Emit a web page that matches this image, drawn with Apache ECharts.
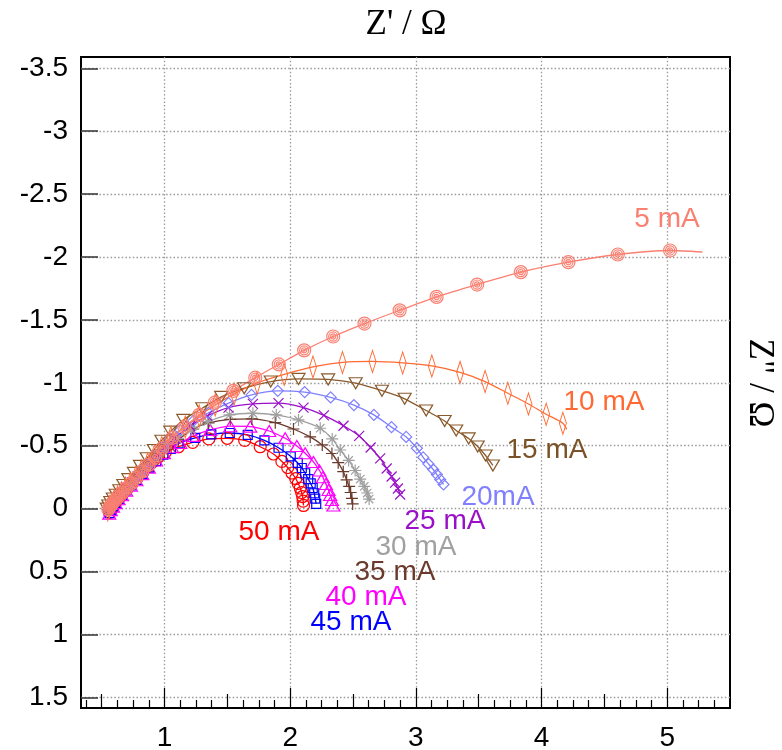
<!DOCTYPE html>
<html>
<head>
<meta charset="utf-8">
<script src="https://cdn.jsdelivr.net/npm/echarts@6/dist/echarts.min.js"></script>
<style>
  html, body { margin: 0; padding: 0; background: #fff; }
  #chart { width: 782px; height: 750px; }
</style>
</head>
<body>
<div id="chart"></div>
<script>
// Nyquist impedance spectra at different discharge currents: [Z' (ohm), Z'' (ohm)]
const cur5 = [[0.552,0.005],[0.568,-0.018],[0.584,-0.042],[0.606,-0.066],[0.630,-0.092],[0.662,-0.124],[0.694,-0.158],[0.734,-0.198],[0.775,-0.243],[0.822,-0.293],[0.871,-0.347],[0.925,-0.410],[0.982,-0.482],[1.061,-0.562],[1.157,-0.649],[1.276,-0.745],[1.399,-0.842],[1.547,-0.936],[1.722,-1.041],[1.909,-1.146],[2.111,-1.258],[2.342,-1.368],[2.591,-1.471],[2.871,-1.576],[3.165,-1.683],[3.488,-1.781],[3.835,-1.880],[4.214,-1.959],[4.607,-2.020],[5.023,-2.052]];
const cur10 = [[0.548,0.010],[0.562,-0.015],[0.580,-0.040],[0.600,-0.066],[0.626,-0.094],[0.656,-0.126],[0.690,-0.162],[0.728,-0.204],[0.770,-0.250],[0.815,-0.300],[0.865,-0.356],[0.918,-0.418],[0.978,-0.488],[1.050,-0.566],[1.165,-0.649],[1.276,-0.737],[1.403,-0.824],[1.554,-0.912],[1.737,-0.999],[1.952,-1.067],[2.181,-1.126],[2.416,-1.162],[2.655,-1.170],[2.895,-1.158],[3.127,-1.134],[3.352,-1.083],[3.551,-1.010],[3.732,-0.917],[3.896,-0.832],[4.037,-0.750],[4.170,-0.679]];
const cur15 = [[0.540,0.000],[0.552,-0.025],[0.568,-0.052],[0.588,-0.080],[0.612,-0.110],[0.640,-0.146],[0.672,-0.188],[0.712,-0.234],[0.756,-0.284],[0.804,-0.340],[0.858,-0.400],[0.915,-0.466],[0.975,-0.540],[1.045,-0.612],[1.149,-0.705],[1.300,-0.798],[1.451,-0.888],[1.634,-0.957],[1.845,-1.010],[2.066,-1.031],[2.302,-1.027],[2.521,-0.997],[2.730,-0.937],[2.911,-0.873],[3.082,-0.780],[3.229,-0.697],[3.321,-0.621],[3.420,-0.558],[3.492,-0.494],[3.555,-0.422],[3.613,-0.343]];
const cur20 = [[0.550,0.010],[0.565,-0.016],[0.583,-0.042],[0.604,-0.068],[0.630,-0.098],[0.660,-0.130],[0.696,-0.168],[0.736,-0.210],[0.780,-0.256],[0.828,-0.306],[0.880,-0.362],[0.937,-0.424],[0.990,-0.488],[1.037,-0.546],[1.125,-0.625],[1.228,-0.697],[1.350,-0.761],[1.509,-0.838],[1.692,-0.904],[1.901,-0.936],[2.115,-0.926],[2.322,-0.884],[2.507,-0.823],[2.666,-0.745],[2.806,-0.648],[2.923,-0.570],[3.008,-0.480],[3.058,-0.407],[3.100,-0.355],[3.138,-0.311],[3.167,-0.271],[3.193,-0.232],[3.220,-0.192]];
const cur25 = [[0.552,0.012],[0.567,-0.014],[0.585,-0.040],[0.607,-0.066],[0.633,-0.096],[0.664,-0.128],[0.700,-0.166],[0.740,-0.208],[0.785,-0.255],[0.834,-0.306],[0.888,-0.362],[0.946,-0.424],[1.005,-0.488],[1.080,-0.560],[1.204,-0.657],[1.340,-0.737],[1.509,-0.803],[1.703,-0.832],[1.907,-0.838],[2.106,-0.803],[2.268,-0.741],[2.424,-0.659],[2.549,-0.578],[2.640,-0.486],[2.716,-0.399],[2.768,-0.319],[2.807,-0.255],[2.835,-0.206],[2.857,-0.160],[2.875,-0.112]];
const cur30 = [[0.553,0.014],[0.568,-0.012],[0.587,-0.038],[0.609,-0.064],[0.635,-0.094],[0.666,-0.126],[0.702,-0.164],[0.743,-0.206],[0.788,-0.252],[0.838,-0.302],[0.892,-0.358],[0.950,-0.418],[1.012,-0.480],[1.100,-0.556],[1.212,-0.625],[1.342,-0.691],[1.517,-0.745],[1.703,-0.758],[1.889,-0.745],[2.066,-0.705],[2.239,-0.639],[2.334,-0.554],[2.398,-0.466],[2.465,-0.383],[2.517,-0.303],[2.557,-0.235],[2.589,-0.176],[2.613,-0.124],[2.628,-0.076]];
const cur35 = [[0.556,0.016],[0.571,-0.010],[0.590,-0.036],[0.612,-0.062],[0.638,-0.092],[0.669,-0.124],[0.705,-0.162],[0.746,-0.204],[0.792,-0.250],[0.842,-0.300],[0.897,-0.355],[0.956,-0.414],[1.020,-0.474],[1.110,-0.548],[1.228,-0.633],[1.350,-0.681],[1.523,-0.709],[1.695,-0.713],[1.881,-0.683],[2.026,-0.633],[2.159,-0.570],[2.255,-0.506],[2.332,-0.438],[2.382,-0.365],[2.422,-0.294],[2.449,-0.228],[2.469,-0.176],[2.481,-0.128],[2.491,-0.082],[2.497,-0.037]];
const cur40 = [[0.560,0.040],[0.572,0.012],[0.590,-0.016],[0.610,-0.044],[0.634,-0.074],[0.662,-0.106],[0.695,-0.142],[0.733,-0.182],[0.776,-0.226],[0.823,-0.274],[0.875,-0.326],[0.932,-0.382],[0.995,-0.440],[1.060,-0.488],[1.125,-0.522],[1.231,-0.578],[1.364,-0.625],[1.523,-0.655],[1.682,-0.652],[1.833,-0.617],[1.960,-0.559],[2.053,-0.498],[2.119,-0.440],[2.185,-0.371],[2.233,-0.303],[2.260,-0.249],[2.284,-0.196],[2.305,-0.148],[2.318,-0.108],[2.332,-0.068],[2.344,-0.025]];
const cur45 = [[0.562,0.036],[0.575,0.010],[0.592,-0.018],[0.612,-0.046],[0.636,-0.076],[0.664,-0.108],[0.697,-0.144],[0.735,-0.184],[0.778,-0.228],[0.825,-0.276],[0.876,-0.326],[0.932,-0.378],[0.990,-0.428],[1.050,-0.474],[1.111,-0.519],[1.244,-0.563],[1.372,-0.590],[1.519,-0.601],[1.662,-0.586],[1.795,-0.542],[1.907,-0.484],[2.004,-0.416],[2.060,-0.363],[2.092,-0.323],[2.119,-0.281],[2.143,-0.235],[2.163,-0.200],[2.179,-0.164],[2.191,-0.122],[2.199,-0.080],[2.207,-0.037]];
const cur50 = [[0.565,0.030],[0.578,0.004],[0.595,-0.024],[0.615,-0.054],[0.640,-0.086],[0.668,-0.120],[0.700,-0.156],[0.738,-0.196],[0.780,-0.240],[0.826,-0.288],[0.870,-0.334],[0.905,-0.372],[0.952,-0.412],[1.006,-0.448],[1.111,-0.492],[1.224,-0.526],[1.352,-0.554],[1.499,-0.559],[1.638,-0.542],[1.761,-0.492],[1.867,-0.434],[1.934,-0.375],[1.980,-0.327],[2.014,-0.283],[2.044,-0.239],[2.064,-0.200],[2.080,-0.164],[2.091,-0.128],[2.099,-0.096],[2.103,-0.060],[2.106,-0.025]];

// end points of the fitted curves beyond the last measured point
const fitEnd5 = [5.28, -2.04];
const fitEnd10 = [4.20, -0.63];

// axis tick values
const xLabelVals = [1, 2, 3, 4, 5];
const xHalfVals = [0.5, 1.5, 2.5, 3.5, 4.5];
const yLabelVals = [-3.5, -3, -2.5, -2, -1.5, -1, -0.5, 0, 0.5, 1, 1.5];

// current labels
const labelTexts = ['5 mA', '10 mA', '15 mA', '20mA', '25 mA', '30 mA', '35 mA', '40 mA', '45 mA', '50 mA'];

const X_MIN = 0.335, X_MAX = 5.5, Y_MIN = -3.59, Y_MAX = 1.585;

const xMinorVals = [];
for (let k = 3; k < 44; k++) { if (k % 4 !== 0) xMinorVals.push(k / 8); }

const SYM = {
  ring: 'path://M10 0A10 10 0 1 1 9.99 0ZM10 3A7 7 0 1 1 9.99 3ZM10 6A4 4 0 1 1 9.99 6ZM10 8.8A1.2 1.2 0 1 1 9.99 8.8Z',
  triDown: 'path://M0 0L12 0L6 10Z',
  triUp: 'path://M6 0L12 10L0 10Z',
  cross: 'path://M0 0L10 10M10 0L0 10',
  plus: 'path://M5 0L5 10M0 5L10 5',
  star: 'path://M5 0L5 10M0 5L10 5M1.5 1.5L8.5 8.5M8.5 1.5L1.5 8.5'
};

// drawn from highest current to lowest so the 5 mA curve sits on top
const curves = [
  { name: '50 mA', data: cur50, color: '#ff0000', symbol: 'circle', size: 12 },
  { name: '45 mA', data: cur45, color: '#0000ff', symbol: 'rect', size: 9 },
  { name: '40 mA', data: cur40, color: '#ff00ff', symbol: SYM.triUp, size: [13, 11] },
  { name: '35 mA', data: cur35, color: '#6b3a2c', symbol: SYM.plus, size: 12 },
  { name: '30 mA', data: cur30, color: '#a0a0a0', symbol: SYM.star, size: 12 },
  { name: '25 mA', data: cur25, color: '#9a10c8', symbol: SYM.cross, size: 10 },
  { name: '20mA', data: cur20, color: '#7f7fff', symbol: 'diamond', size: 11 },
  { name: '15 mA', data: cur15, color: '#8a5a2c', symbol: SYM.triDown, size: [13, 11] },
  { name: '10 mA', data: cur10.concat([{ value: fitEnd10, symbol: 'none' }]), color: '#ff6a33', symbol: 'diamond', size: [7, 22] },
  { name: '5 mA', data: cur5.concat([{ value: fitEnd5, symbol: 'none' }]), color: '#fa8072', symbol: SYM.ring, size: 13 }
];

const series = curves.map(c => ({
  name: c.name,
  type: 'line',
  data: c.data,
  smooth: 0.25,
  symbol: c.symbol,
  symbolSize: c.size,
  showAllSymbol: true,
  lineStyle: { color: c.color, width: 1.3 },
  itemStyle: { color: 'rgba(0,0,0,0)', borderColor: c.color, borderWidth: 1.2 },
  emphasis: { disabled: true },
  z: 3
}));

const labelFont = '28px "Liberation Sans", Arial, sans-serif';
const labelColors = ['#fa8072', '#ff6a33', '#7a5228', '#7f7fff', '#9a10c8', '#a0a0a0', '#6b3a2c', '#ff00ff', '#0000ff', '#ff0000'];
const labelPos = [[667, 219], [604, 402], [547, 450], [498, 497], [445, 521], [416, 547], [395, 572], [366, 597], [351, 622], [279, 532]];

const graphics = labelTexts.map((t, i) => ({
  type: 'text', x: labelPos[i][0], y: labelPos[i][1], z: 10,
  style: { text: t, font: labelFont, fill: labelColors[i], align: 'center', verticalAlign: 'middle' }
}));
graphics.push({
  type: 'text', x: 406, y: 25,
  style: { text: "Z' / Ω", font: '35px "Liberation Serif", "Times New Roman", serif', fill: '#000', align: 'center', verticalAlign: 'middle' }
});
graphics.push({
  type: 'text', x: 759, y: 383, rotation: -Math.PI / 2,
  style: { text: 'Z" / Ω', font: '35px "Liberation Serif", "Times New Roman", serif', fill: '#000', align: 'center', verticalAlign: 'middle' }
});

const gridLine = { show: true, lineStyle: { color: '#9a9a9a', width: 1.3, type: [1.5, 2.2] } };

function tickAxis(values, len) {
  return {
    type: 'value', gridIndex: 0, position: 'bottom', min: X_MIN, max: X_MAX,
    axisLine: { show: false, onZero: false },
    axisTick: { show: true, inside: true, length: len, customValues: values, lineStyle: { color: '#000', width: 1.2 } },
    axisLabel: { show: false },
    splitLine: { show: false }
  };
}

const option = {
  animation: false,
  backgroundColor: '#fff',
  grid: {
    left: 81, right: 52, top: 57, bottom: 42,
    show: true, borderColor: '#000', borderWidth: 2,
    containLabel: false, outerBoundsMode: 'none'
  },
  xAxis: [
    {
      type: 'value', gridIndex: 0, position: 'bottom', min: X_MIN, max: X_MAX,
      axisLine: { show: false, onZero: false },
      axisTick: { show: true, inside: true, length: 20, customValues: xLabelVals, lineStyle: { color: '#000', width: 1.2 } },
      axisLabel: { show: true, customValues: xLabelVals, margin: 16, color: '#000', fontSize: 28, fontFamily: '"Liberation Sans", Arial, sans-serif' },
      splitLine: gridLine
    },
    tickAxis(xHalfVals, 14),
    tickAxis(xMinorVals, 8)
  ],
  yAxis: {
    type: 'value', inverse: true, min: Y_MIN, max: Y_MAX,
    axisLine: { show: false, onZero: false },
    axisTick: { show: true, inside: true, length: 17, customValues: yLabelVals, lineStyle: { color: '#333', width: 1.5 } },
    axisLabel: { show: true, customValues: yLabelVals, margin: 13, color: '#000', fontSize: 28, fontFamily: '"Liberation Sans", Arial, sans-serif' },
    splitLine: gridLine
  },
  series: series,
  graphic: graphics
};

const chart = echarts.init(document.getElementById('chart'), null, { renderer: 'canvas' });
chart.setOption(option);
</script>
</body>
</html>
